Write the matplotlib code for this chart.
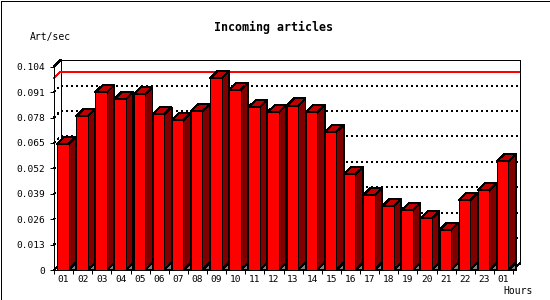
import matplotlib
matplotlib.use('Agg')
import matplotlib.pyplot as plt
from matplotlib.patches import Polygon, Rectangle
from matplotlib.lines import Line2D

# ---------------- data ----------------
hours = ['01', '02', '03', '04', '05', '06', '07', '08', '09', '10', '11', '12',
         '13', '14', '15', '16', '17', '18', '19', '20', '21', '22', '23', '01']
values = [0.0645, 0.0786, 0.0909, 0.0875, 0.0899, 0.0796, 0.0767, 0.0812,
          0.0981, 0.0921, 0.0832, 0.0807, 0.0840, 0.0807, 0.0706, 0.0490,
          0.0382, 0.0326, 0.0305, 0.0264, 0.0205, 0.0357, 0.0408, 0.0556]
yticks = [0, 0.013, 0.026, 0.039, 0.052, 0.065, 0.078, 0.091, 0.104]
ytick_labels = ['0', '0.013', '0.026', '0.039', '0.052', '0.065', '0.078', '0.091', '0.104']
title = 'Incoming articles'
ylabel = 'Art/sec'
xlabel = 'Hours'

# ---------------- style ----------------
W, H = 550, 300
MONO = 'DejaVu Sans Mono'
FRONT = '#ff0000'
SIDE = '#800000'
TOP = '#c00000'
FLOOR = '#808080'
LW = 0.72

plt.rcParams['lines.scale_dashes'] = False

fig = plt.figure(figsize=(W / 100, H / 100), dpi=100)
fig.patch.set_facecolor('white')
fig.patches.append(Rectangle((0.5 / W, 0.5 / H), 1 - 1.0 / W, 1 - 1.0 / H,
                             transform=fig.transFigure, fill=False,
                             edgecolor='black', lw=LW, antialiased=False))

ax = fig.add_axes([54 / W, 30 / H, 459 / W, 203.3 / H])
n = len(values)
ax.set_xlim(0, n)
ax.set_ylim(0, yticks[-1])
ax.set_facecolor('none')
for s in ('top', 'right'):
    ax.spines[s].set_visible(False)
for s in ('left', 'bottom'):
    ax.spines[s].set_linewidth(LW)
    ax.spines[s].set_antialiased(False)
    ax.spines[s].set_zorder(50)

# pixel -> data conversion from the axes scales
ax_w_px = 459.0
ax_h_px = 203.3
px_x = n / ax_w_px
px_y = yticks[-1] / ax_h_px

wdx, wdy = 6.5 * px_x, 6.5 * px_y   # wall depth
bdx, bdy = 7.5 * px_x, 7.3 * px_y   # bar depth
off, bw = 3.0 * px_x, 11.5 * px_x   # bar front offset and width

# back wall outline
x0, x1 = 0, n
ytop = yticks[-1]
back = [(x0 + wdx, wdy), (x1 + wdx, wdy), (x1 + wdx, ytop + wdy), (x0 + wdx, ytop + wdy), (x0 + wdx, wdy)]
ax.add_line(Line2D([p[0] for p in back], [p[1] for p in back], color='black', lw=LW,
                   clip_on=False, zorder=1, antialiased=False))
# corner diagonals
for (xa, ya) in [(x0, ytop), (x0, 0), (x1, 0)]:
    ax.add_line(Line2D([xa, xa + wdx], [ya, ya + wdy], color='black', lw=LW,
                       clip_on=False, zorder=1, antialiased=False))

# dotted gridlines on the back wall
for v in yticks[1:-1]:
    ax.add_line(Line2D([x0, x0 + wdx, x1 + wdx], [v, v + wdy, v + wdy], color='black',
                       lw=LW, linestyle=(0, (1.4, 2.2)), clip_on=False, zorder=1,
                       antialiased=False))

# max line in red
vmax = max(values)
ax.add_line(Line2D([x0, x0 + wdx, x1 + wdx], [vmax, vmax + wdy, vmax + wdy], color='red',
                   lw=LW, clip_on=False, zorder=1.5, antialiased=False))

# bars
z = 2
for i, v in enumerate(values):
    xl = i + off
    xr = xl + bw
    ax.add_patch(Polygon([(xr, 0), (xr + bdx, bdy), (xr + bdx, 0)], closed=True,
                         facecolor=FLOOR, edgecolor='black', lw=LW, zorder=z,
                         clip_on=False, antialiased=False))
    ax.add_patch(Polygon([(xr, 0), (xr + bdx, bdy), (xr + bdx, v + bdy), (xr, v)], closed=True,
                         facecolor=SIDE, edgecolor='black', lw=LW, zorder=z + 0.1,
                         clip_on=False, antialiased=False))
    ax.add_patch(Polygon([(xl, v), (xr, v), (xr + bdx, v + bdy), (xl + bdx, v + bdy)], closed=True,
                         facecolor=TOP, edgecolor='black', lw=LW, zorder=z + 0.2,
                         clip_on=False, antialiased=False))
    ax.bar([xl], [v], width=bw, align='edge', color=FRONT, edgecolor='black',
           lw=LW, zorder=z + 0.3, antialiased=False)
    z += 1

# ticks
ax.set_yticks(yticks, ytick_labels, family=MONO, fontsize=6.8)
ax.tick_params(axis='y', length=2.6, width=LW, pad=4, direction='out')
ax.set_xticks(range(n + 1), [''] * (n + 1))
ax.set_xticks([i + 0.5 for i in range(n)], hours, minor=True, family=MONO, fontsize=6.8)
ax.tick_params(axis='x', which='major', length=3, width=LW, direction='out')
ax.tick_params(axis='x', which='minor', length=0, pad=3.5)

fig.text(273.7 / W, 1 - 27 / H, title, ha='center', va='center', family=MONO,
         fontweight='bold', fontsize=8.4)
fig.text(30 / W, 1 - 37 / H, ylabel, ha='left', va='center', family=MONO, fontsize=7)
fig.text(533 / W, 1 - 291 / H, xlabel, ha='right', va='center', family=MONO, fontsize=7)

fig.savefig('out.png', dpi=100)
